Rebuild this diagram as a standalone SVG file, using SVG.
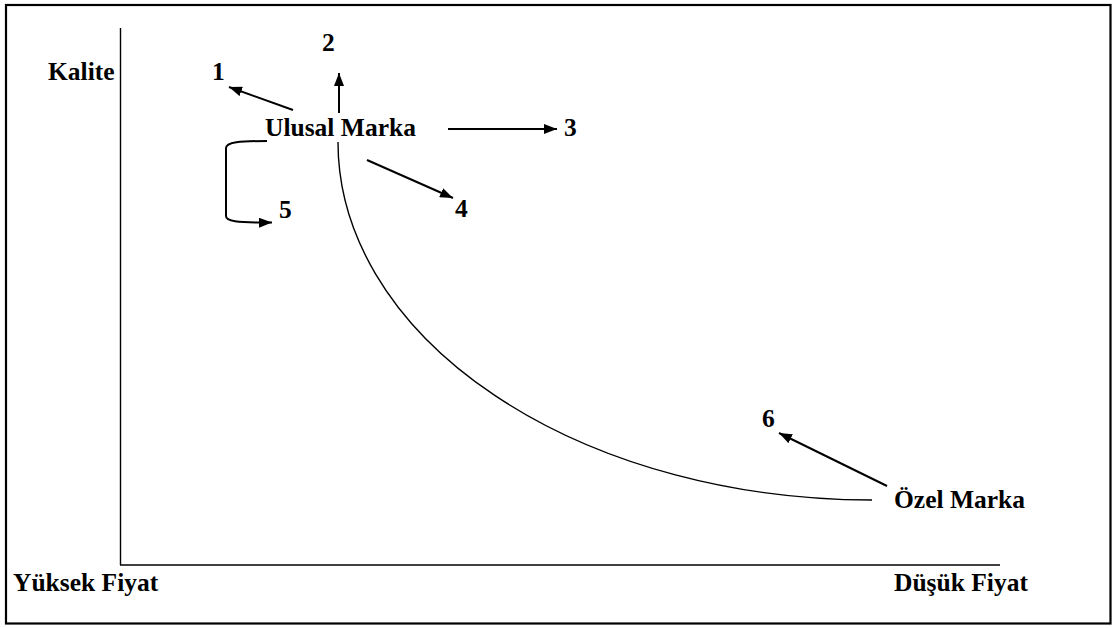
<svg xmlns="http://www.w3.org/2000/svg" width="1113" height="628" viewBox="0 0 1113 628">
<style>
text{font-family:"Liberation Serif","Times New Roman",serif;font-weight:bold;font-size:25.5px;fill:#000}
.ax{stroke:#000;stroke-width:1.4;fill:none}
.ar{stroke:#000;stroke-width:2;fill:none;marker-end:url(#ah)}
</style>
<defs>
<marker id="ah" markerUnits="userSpaceOnUse" markerWidth="14" markerHeight="10" refX="13" refY="5" orient="auto">
<path d="M0,0 L13,5 L0,10 Z" fill="#000"/>
</marker>
</defs>
<rect x="6" y="5" width="1104.5" height="618.5" fill="#fff" stroke="#000" stroke-width="2.2"/>
<g id="axes">
<line class="ax" x1="120.5" y1="28" x2="120.5" y2="565"/>
<line class="ax" x1="120" y1="565" x2="1000" y2="565"/>
</g>
<g id="labels">
<text x="48" y="80">Kalite</text>
<text x="13" y="591">Yüksek Fiyat</text>
<text x="894" y="591">Düşük Fiyat</text>
</g>
<g id="ulusal"><text x="265" y="136">Ulusal Marka</text></g>
<g id="ozel"><text x="894" y="508">Özel Marka</text></g>
<g id="n1"><text x="212" y="80">1</text></g>
<g id="n2"><text x="322" y="51">2</text></g>
<g id="n3"><text x="564" y="136">3</text></g>
<g id="n4"><text x="455" y="217">4</text></g>
<g id="n5"><text x="279" y="218">5</text></g>
<g id="n6"><text x="762" y="427">6</text></g>
<g id="connectors">
<path class="ax" d="M338,142 A534,358 0 0 0 872,500"/>
<line class="ar" x1="293" y1="110" x2="229" y2="87"/>
<line class="ar" x1="339" y1="113" x2="339" y2="73"/>
<line class="ar" x1="448" y1="129" x2="557" y2="129"/>
<line class="ar" x1="367" y1="160" x2="453" y2="198"/>
<path class="ar" d="M267,141 C240,141 226,142 226,148 L226,216 C226,221 235,223 272,222.5"/>
<line class="ar" x1="887" y1="486" x2="779" y2="433"/>
</g>
</svg>
